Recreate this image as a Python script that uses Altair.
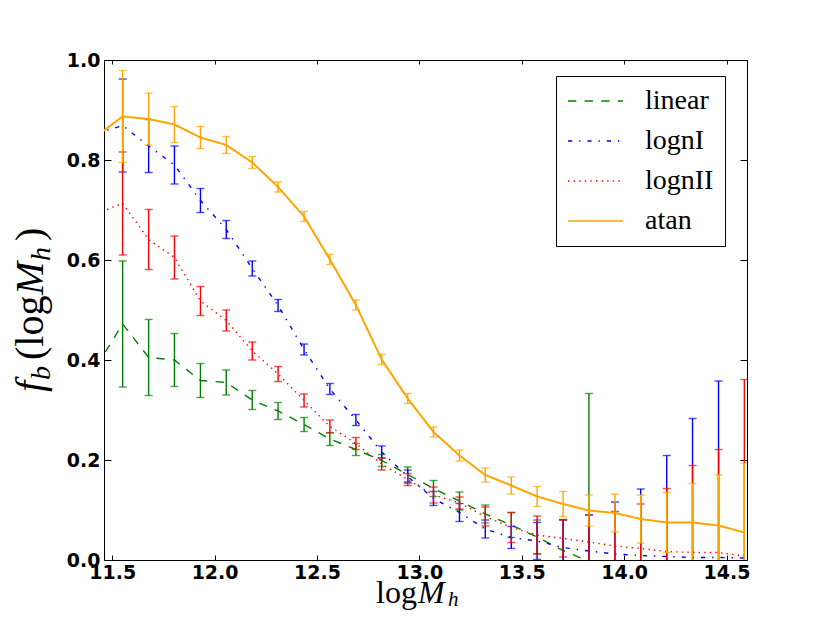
import altair as alt
import pandas as pd

# ---- data ----
x_vals = [11.424, 11.551, 11.678, 11.804, 11.931, 12.057, 12.184, 12.310, 12.437,
          12.563, 12.690, 12.816, 12.943, 13.069, 13.196, 13.322, 13.449, 13.575,
          13.702, 13.828, 13.955, 14.081, 14.208, 14.334, 14.461, 14.587]

linear_y = [0.388, 0.472, 0.405, 0.400, 0.359, 0.355, 0.320, 0.298, 0.271, 0.242,
            0.221, 0.199, 0.171, 0.143, 0.118, 0.092, 0.070, 0.046, 0.019, -0.003]
linear_err = [None, 0.126, 0.076, 0.053, 0.034, 0.025, 0.019, 0.017, 0.014, 0.013,
              0.012, 0.012, 0.015, 0.016, 0.018, 0.018, 0.025, 0.034, 0.062, 0.336]

logn1_y = [0.853, 0.869, 0.828, 0.790, 0.719, 0.661, 0.583, 0.509, 0.421, 0.342,
           0.280, 0.216, 0.167, 0.123, 0.095, 0.062, 0.045, 0.038, 0.025, 0.018,
           0.012, 0.009, 0.007, 0.005, 0.005, 0.004]
logn1_err = [None, 0.093, 0.053, 0.038, 0.024, 0.018, 0.015, 0.012, 0.011, 0.011,
             0.011, 0.012, 0.013, 0.014, 0.018, 0.018, 0.022, 0.037, 0.055, 0.072,
             0.104, 0.133, 0.202, 0.278, 0.353, None]

logn2_y = [0.693, 0.713, 0.641, 0.605, 0.518, 0.479, 0.418, 0.372, 0.319, 0.267,
           0.233, 0.192, 0.161, 0.130, 0.114, 0.087, 0.065, 0.050, 0.043, 0.036,
           0.028, 0.023, 0.017, 0.015, 0.015, 0.008]
logn2_err = [None, 0.103, 0.060, 0.043, 0.029, 0.021, 0.018, 0.015, 0.013, 0.013,
             0.012, 0.012, 0.012, 0.016, 0.012, 0.019, 0.030, 0.038, 0.037, 0.054,
             0.069, 0.089, 0.126, 0.174, 0.206, 0.353]

atan_y = [0.848, 0.887, 0.882, 0.871, 0.845, 0.830, 0.795, 0.746, 0.687, 0.601,
          0.510, 0.401, 0.323, 0.256, 0.209, 0.170, 0.149, 0.127, 0.112, 0.099,
          0.094, 0.082, 0.075, 0.075, 0.069, 0.055]
atan_err = [None, 0.092, 0.052, 0.036, 0.022, 0.017, 0.012, 0.010, 0.010, 0.010,
            0.010, 0.010, 0.010, 0.010, 0.011, 0.014, 0.017, 0.020, 0.025, 0.031,
            0.038, 0.048, 0.060, 0.078, 0.101, 0.139]

series_names = ["linear", "lognI", "lognII", "atan"]
series_y = [linear_y, logn1_y, logn2_y, atan_y]
series_err = [linear_err, logn1_err, logn2_err, atan_err]
colors = ["#008000", "#0000ff", "#ff0000", "#ffa500"]
dashes = [[8.3, 8.3], [4.2, 6.9, 1.4, 6.9], [1.4, 4.2], [1, 0]]
widths = [1.4, 1.4, 1.4, 2.0]

x_ticks = [11.5, 12.0, 12.5, 13.0, 13.5, 14.0, 14.5]
y_ticks = [0.0, 0.2, 0.4, 0.6, 0.8, 1.0]

xscale = alt.Scale(domain=[11.46, 14.6], nice=False, zero=False)
yscale = alt.Scale(domain=[0, 1], nice=False, zero=False)

x_axis = alt.Axis(values=x_ticks, format=".1f", orient="bottom", offset=-5,
                  tickSize=5, domain=False, labelPadding=3, title=None, grid=False)
y_axis = alt.Axis(values=y_ticks, format=".1f", orient="left", offset=-7,
                  tickSize=7, domain=False, labelPadding=4, title=None, grid=False)

legend = alt.Legend(title=None, labelExpr="datum.label + '  '")
color_enc = alt.Color("series:N", legend=legend,
                      scale=alt.Scale(domain=series_names, range=colors))
dash_enc = alt.StrokeDash("series:N", legend=legend,
                          scale=alt.Scale(domain=series_names, range=dashes))

layers = []
for name, ys, errs, col, w in zip(series_names, series_y, series_err, colors, widths):
    df = pd.DataFrame({
        "series": name,
        "x": x_vals[:len(ys)],
        "y": ys,
        "err": errs[:len(ys)],
    })
    base = alt.Chart(df)
    line = base.mark_line(clip=True, strokeWidth=w).encode(
        x=alt.X("x:Q", scale=xscale, axis=x_axis),
        y=alt.Y("y:Q", scale=yscale, axis=y_axis),
        color=color_enc,
        strokeDash=dash_enc,
        order="x:Q",
    )
    eb = base.transform_filter("isValid(datum.err)").transform_calculate(
        lo="datum.y - datum.err", hi="datum.y + datum.err"
    )
    rule = eb.mark_rule(clip=True, strokeWidth=1.4, color=col).encode(
        x="x:Q", y="lo:Q", y2="hi:Q"
    )
    caps = eb.transform_fold(["lo", "hi"], as_=["end", "v"]).mark_tick(
        clip=True, orient="horizontal", size=8, thickness=1.4, color=col
    ).encode(x="x:Q", y="v:Q")
    layers += [line, rule, caps]

one = pd.DataFrame({"k": [0]})


def label(text, x, y, size, italic=False, angle=0):
    kw = dict(text=text, font="Liberation Serif", fontSize=size, align="left",
              baseline="alphabetic", color="black", clip=False)
    if italic:
        kw["fontStyle"] = "italic"
    if angle:
        kw["angle"] = angle
    return alt.Chart(one).mark_text(**kw).encode(x=alt.value(x), y=alt.value(y))


# x-axis title  log M_h
layers += [
    label("log", 272, 543, 32),
    label("M", 314, 543, 32, italic=True),
    label("h", 344, 546, 21, italic=True),
]
# y-axis title  f_b (log M_h )
layers += [
    label("f", -61, 332, 40, italic=True, angle=270),
    label("b", -54, 320, 28, italic=True, angle=270),
    label("(log", -61, 300, 40, angle=270),
    label("M", -61, 235, 40, italic=True, angle=270),
    label("h", -54, 201, 28, italic=True, angle=270),
    label(")", -61, 181, 40, angle=270),
]

main = alt.layer(*layers)

dummy = alt.Chart(pd.DataFrame({"x": x_vals[1:], "y": atan_y[1:]})).mark_point(
    opacity=0
).encode(
    x=alt.X("x:Q", scale=xscale,
            axis=alt.Axis(values=x_ticks, orient="top", labels=False, offset=-4,
                          tickSize=4, domain=False, title=None, grid=False)),
    y=alt.Y("y:Q", scale=yscale,
            axis=alt.Axis(values=y_ticks, orient="right", labels=False, offset=-7,
                          tickSize=7, domain=False, title=None, grid=False)),
)

chart = alt.layer(main, dummy).resolve_axis(
    x="independent", y="independent"
).properties(
    width=643, height=500,
    autosize=alt.AutoSizeParams(type="none"),
    padding={"left": 96, "top": 52, "right": 70, "bottom": 51},
).configure_view(
    stroke="black", strokeWidth=1
).configure_axis(
    labelFont="DejaVu Sans", labelFontWeight="bold", labelFontSize=19,
    labelColor="black", tickColor="black", tickWidth=1,
).configure_legend(
    orient="none", legendX=452, legendY=16, padding=11,
    strokeColor="black", fillColor="white",
    symbolType="stroke", symbolSize=3025, symbolStrokeWidth=1.5,
    labelFont="Liberation Serif", labelFontSize=28, labelColor="black",
    labelOffset=21, rowPadding=12, clipHeight=28,
)

chart.save("out.html", embed_options={"renderer": "svg", "actions": False})
